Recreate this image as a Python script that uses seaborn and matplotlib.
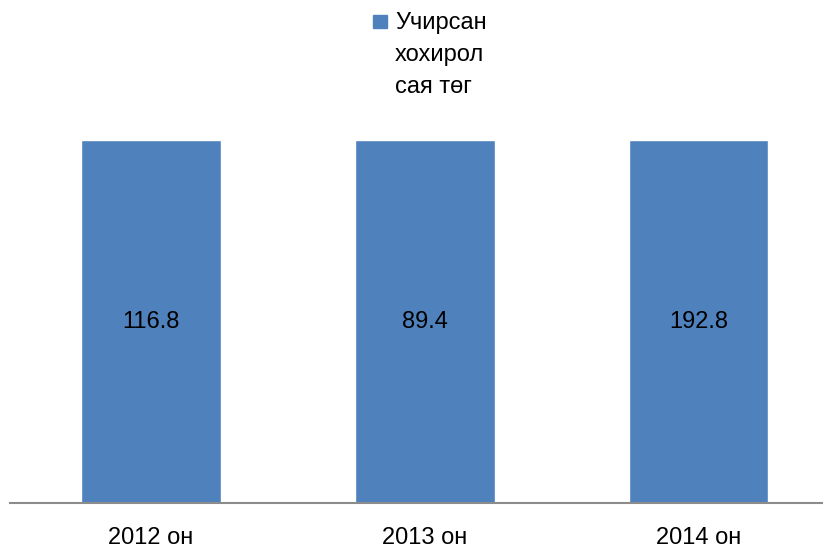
import numpy as np
import pandas as pd
import matplotlib
matplotlib.use("Agg")
import matplotlib.pyplot as plt
import seaborn as sns
from matplotlib.patches import Rectangle

years = ["2012 он", "2013 он", "2014 он"]
losses = [116.8, 89.4, 192.8]
series_name = "Учирсан\nхохирол\nсая төг"

# 100% stacked column: every bar fills the full height
share = [v / v for v in losses]
df = pd.DataFrame({"year": years, "share": share})

sns.set_style("white")
plt.rcParams["font.family"] = ["Liberation Sans", "DejaVu Sans"]

W, H = 823, 549
fig = plt.figure(figsize=(W / 100, H / 100), dpi=100)
ax = fig.add_axes([10 / W, 46 / H, 813 / W, 363 / H])

color = "#4F81BD"
fs = 17
sns.barplot(data=df, x="year", y="share", color=color, saturation=1,
            width=0.511, ax=ax)

ax.set_xlim(-0.515, 2.455)
ax.set_ylim(0, 1)
for c in ax.containers:
    ax.bar_label(c, labels=[f"{v:.1f}" for v in losses], label_type="center",
                 fontsize=fs, color="black")

for s in ["top", "right", "left"]:
    ax.spines[s].set_visible(False)
ax.spines["bottom"].set_color("#8c8c8c")
ax.spines["bottom"].set_linewidth(1.5)
ax.set_yticks([])
ax.set_xlabel("")
ax.set_ylabel("")
ax.tick_params(axis="x", length=0, pad=17.5, labelsize=fs, labelcolor="black")

# legend drawn by hand: marker sits beside the first line of the label
fig.patches.append(Rectangle((373 / W, 1 - 28 / H), 14 / W, 13 / H,
                             transform=fig.transFigure, color=color))
fig.text(395 / W, 1 - 12 / H, series_name, ha="left", va="top",
         fontsize=fs, linespacing=1.6, color="black")

fig.savefig("out.png", dpi=100)
